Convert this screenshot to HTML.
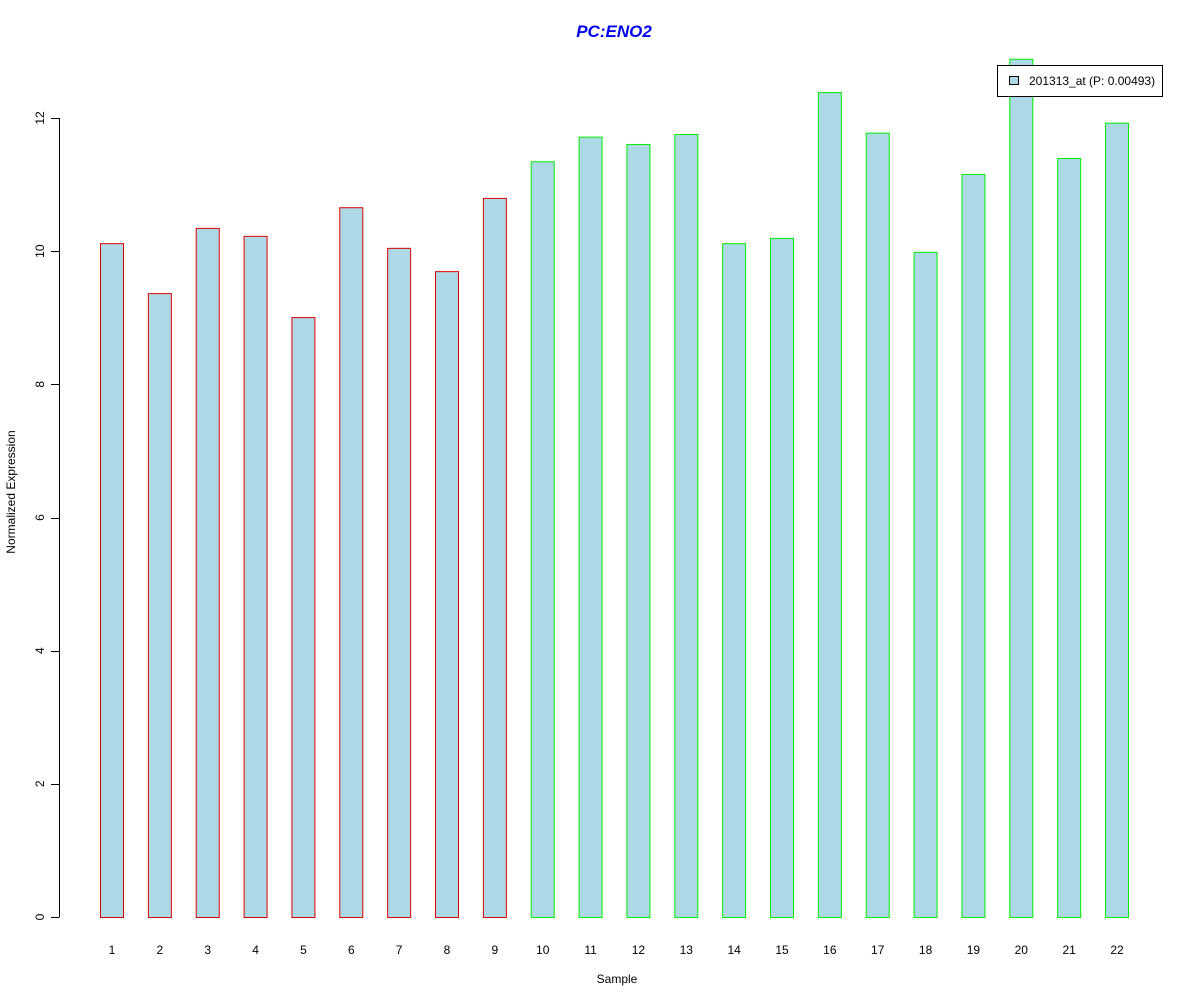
<!DOCTYPE html>
<html><head><meta charset="utf-8"><style>
body{margin:0;background:#fff}
svg{display:block;font-family:"Liberation Sans",Arial,sans-serif}
</style></head><body>
<svg id="chart" width="1200" height="1000">
<rect width="1200" height="1000" fill="#fff"/>
<text x="614" y="37" text-anchor="middle" font-size="17" font-weight="bold" font-style="italic" fill="#0000ee">PC:ENO2</text>
<g id="yaxis"></g>
<g id="bars"></g>
<g id="xlabels"></g>
<text x="617" y="983" text-anchor="middle" font-size="12">Sample</text>
<text transform="translate(15,492) rotate(-90)" text-anchor="middle" font-size="12">Normalized Expression</text>
<g>
<rect x="997.5" y="65.5" width="165" height="31" fill="#fff" stroke="#000"/>
<rect x="1009.5" y="76.5" width="9" height="8" fill="#add8e6" stroke="#000"/>
<text x="1029" y="85" font-size="12">201313_at (P: 0.00493)</text>
</g>
</svg>
<script>
const categories = ["1","2","3","4","5","6","7","8","9","10","11","12","13","14","15","16","17","18","19","20","21","22"];
const values = [10.12,9.37,10.35,10.23,9.01,10.66,10.05,9.70,10.80,11.35,11.72,11.61,11.76,10.12,10.20,12.39,11.78,9.99,11.16,12.89,11.40,11.93];
const groups = ["a","a","a","a","a","a","a","a","a","b","b","b","b","b","b","b","b","b","b","b","b","b"];
const yTicks = [0,2,4,6,8,10,12];
const NS="http://www.w3.org/2000/svg";
const y = v => 917 - v*(917-118)/12;
const x = i => 112 + i*(1117-112)/21;
const bw = 24;
const ya=document.getElementById('yaxis');
const ln=document.createElementNS(NS,'line');


ln.setAttribute('x1',59.5);ln.setAttribute('x2',59.5);
ln.setAttribute('y1',y(yTicks[0]));ln.setAttribute('y2',y(yTicks[yTicks.length-1]));
ln.setAttribute('stroke','#000');ya.appendChild(ln);
yTicks.forEach(t=>{
  const tk=document.createElementNS(NS,'line');
  
  
  tk.setAttribute('x1',51);tk.setAttribute('x2',59.5);
  tk.setAttribute('y1',Math.round(y(t))+0.5);tk.setAttribute('y2',Math.round(y(t))+0.5);
  tk.setAttribute('stroke','#000');ya.appendChild(tk);
  const tx=document.createElementNS(NS,'text');
  
  
  tx.setAttribute('transform',`translate(44,${y(t)}) rotate(-90)`);
  tx.setAttribute('text-anchor','middle');tx.setAttribute('font-size','12');
  tx.textContent=t;ya.appendChild(tx);
});
const bg=document.getElementById('bars'), xl=document.getElementById('xlabels');
values.forEach((v,i)=>{
  const r=document.createElementNS(NS,'rect');
  
  
  r.setAttribute('x',x(i)-bw/2+0.5);r.setAttribute('width',bw-1);
  r.setAttribute('y',y(v)+0.5);r.setAttribute('height',y(0)-y(v));
  r.setAttribute('fill','#add8e6');
  r.setAttribute('stroke',groups[i]==='a'?'#dd0000':'#00ee00');
  bg.appendChild(r);
  const t=document.createElementNS(NS,'text');
  
  
  t.setAttribute('x',x(i));t.setAttribute('y',954);
  t.setAttribute('text-anchor','middle');t.setAttribute('font-size','12');
  t.textContent=categories[i];xl.appendChild(t);
});
</script>
</body></html>
